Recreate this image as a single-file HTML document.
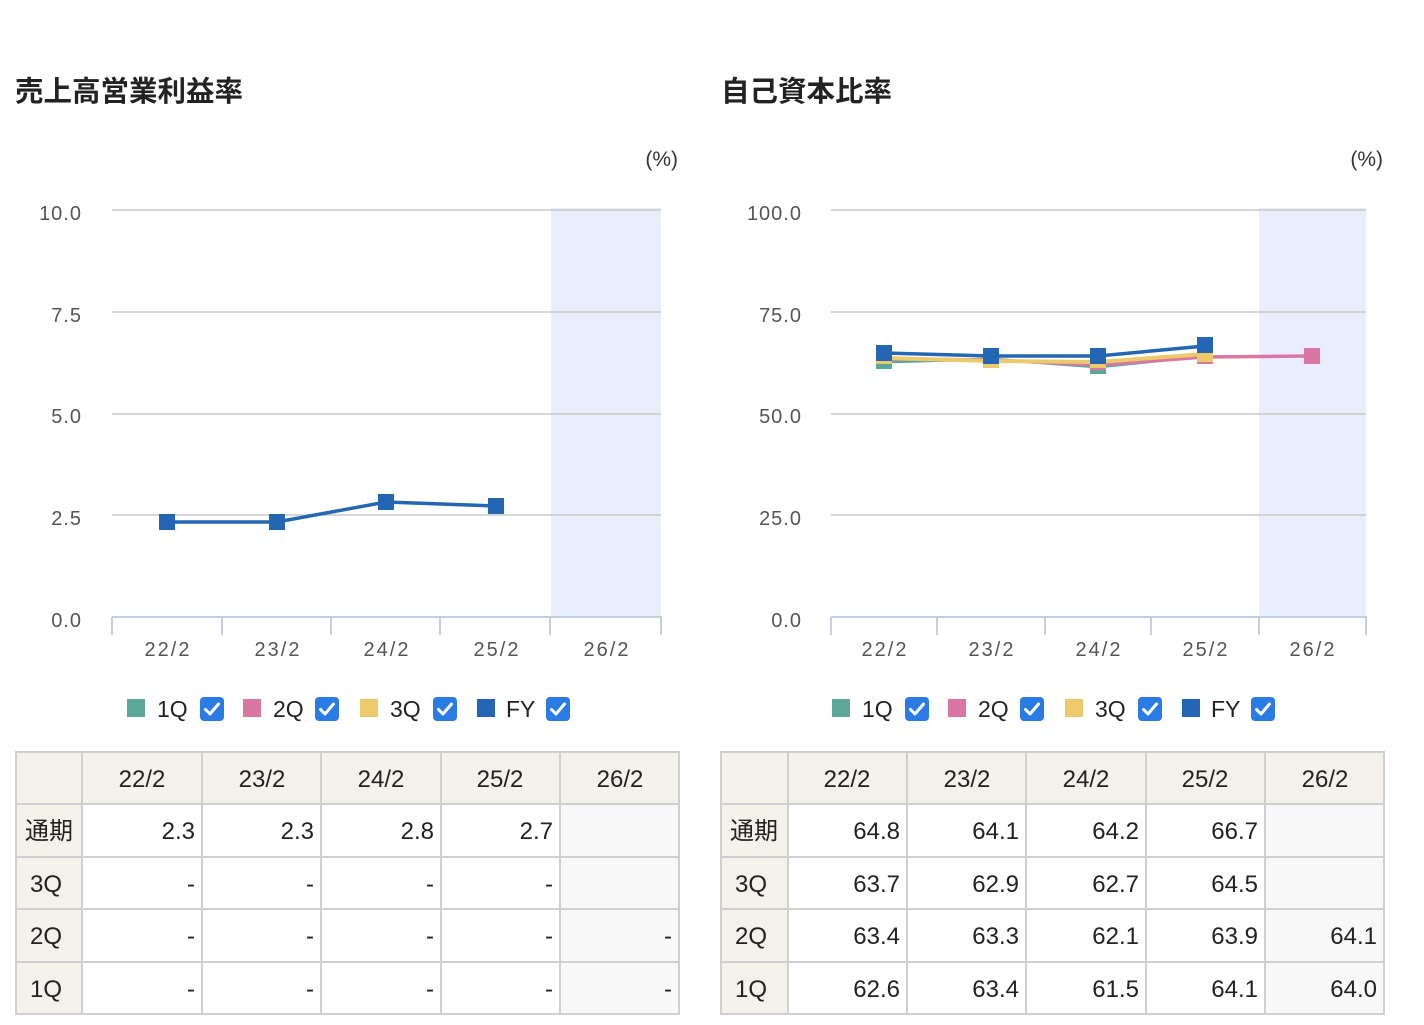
<!DOCTYPE html>
<html><head><meta charset="utf-8"><style>
body{margin:0;background:#fff;}
svg text{font-family:"Liberation Sans","Noto Sans CJK JP",sans-serif;}
</style></head><body>
<svg width="1424" height="1020" xmlns="http://www.w3.org/2000/svg">
<defs>
<g id="cb"><rect x="0" y="0" width="24" height="24" rx="4" fill="#2a7be4"/><path d="M5.5 12.5 L10 17 L18.5 7" stroke="#fff" stroke-width="3" fill="none" stroke-linecap="round" stroke-linejoin="round"/></g>
</defs>
<text x="15" y="101" font-size="28.5" font-weight="bold" fill="#222">売上高営業利益率</text>
<text x="721" y="101" font-size="28.5" font-weight="bold" fill="#222">自己資本比率</text>
<text x="678" y="166" font-size="21" fill="#333" text-anchor="end">(%)</text>
<text x="1383" y="166" font-size="21" fill="#333" text-anchor="end">(%)</text>

<!-- left chart -->
<rect x="551" y="208" width="110" height="410" fill="#eaeefc"/>
<g stroke="#c8c8c8" stroke-width="1.5">
<line x1="112" y1="210" x2="661" y2="210"/><line x1="112" y1="312" x2="661" y2="312"/><line x1="112" y1="414" x2="661" y2="414"/><line x1="112" y1="515" x2="661" y2="515"/>
</g>
<g stroke="#c3cfdf" stroke-width="2">
<line x1="112" y1="617" x2="662" y2="617"/>
<line x1="112" y1="617" x2="112" y2="635"/><line x1="222" y1="617" x2="222" y2="635"/><line x1="331" y1="617" x2="331" y2="635"/><line x1="440" y1="617" x2="440" y2="635"/><line x1="550" y1="617" x2="550" y2="635"/><line x1="661" y1="617" x2="661" y2="635"/>
</g>
<g font-size="20" fill="#555" text-anchor="end" letter-spacing="1">
<text x="82" y="220">10.0</text><text x="82" y="322">7.5</text><text x="82" y="423">5.0</text><text x="82" y="525">2.5</text><text x="82" y="627">0.0</text>
</g>
<g font-size="20" fill="#555" text-anchor="middle" letter-spacing="2">
<text x="168" y="656">22/2</text><text x="278" y="656">23/2</text><text x="387" y="656">24/2</text><text x="497" y="656">25/2</text><text x="607" y="656">26/2</text>
</g>
<polyline points="167,522 277,522 386,502 496,506" fill="none" stroke="#2366b3" stroke-width="3.5"/>
<g fill="#2366b3"><rect x="159" y="514" width="16" height="16"/><rect x="269" y="514" width="16" height="16"/><rect x="378" y="494" width="16" height="16"/><rect x="488" y="498" width="16" height="16"/></g>

<!-- right chart -->
<rect x="1259" y="208" width="107" height="410" fill="#eaeefc"/>
<g stroke="#c8c8c8" stroke-width="1.5">
<line x1="831" y1="210" x2="1366" y2="210"/><line x1="831" y1="312" x2="1366" y2="312"/><line x1="831" y1="414" x2="1366" y2="414"/><line x1="831" y1="515" x2="1366" y2="515"/>
</g>
<g stroke="#c3cfdf" stroke-width="2">
<line x1="831" y1="617" x2="1367" y2="617"/>
<line x1="831" y1="617" x2="831" y2="635"/><line x1="937" y1="617" x2="937" y2="635"/><line x1="1045" y1="617" x2="1045" y2="635"/><line x1="1151" y1="617" x2="1151" y2="635"/><line x1="1259" y1="617" x2="1259" y2="635"/><line x1="1366" y1="617" x2="1366" y2="635"/>
</g>
<g font-size="20" fill="#555" text-anchor="end" letter-spacing="1">
<text x="802" y="220">100.0</text><text x="802" y="322">75.0</text><text x="802" y="423">50.0</text><text x="802" y="525">25.0</text><text x="802" y="627">0.0</text>
</g>
<g font-size="20" fill="#555" text-anchor="middle" letter-spacing="2">
<text x="885" y="656">22/2</text><text x="992" y="656">23/2</text><text x="1099" y="656">24/2</text><text x="1206" y="656">25/2</text><text x="1313" y="656">26/2</text>
</g>
<polyline points="884,362 991,359 1098,367 1205,356" fill="none" stroke="#5ba898" stroke-width="3"/>
<polyline points="884,359 991,360 1098,365 1205,357 1312,356" fill="none" stroke="#d977a2" stroke-width="3.5"/>
<polyline points="884,358 991,361 1098,362 1205,354" fill="none" stroke="#ecc96b" stroke-width="4"/>
<polyline points="884,353 991,356 1098,356 1205,346" fill="none" stroke="#2366b3" stroke-width="3.5"/>
<g fill="#5ba898"><rect x="876" y="356" width="16" height="13"/><rect x="1090" y="361" width="16" height="13"/></g>
<g fill="#d977a2"><rect x="1197" y="350" width="16" height="14"/><rect x="1304" y="348" width="16" height="16"/><rect x="1090" y="358" width="16" height="12"/></g>
<g fill="#ecc96b"><rect x="876" y="351" width="16" height="13"/><rect x="983" y="352" width="16" height="16"/><rect x="1090" y="354" width="16" height="14"/><rect x="1197" y="346" width="16" height="16"/></g>
<g fill="#2366b3"><rect x="876" y="345" width="16" height="16"/><rect x="983" y="348" width="16" height="16"/><rect x="1090" y="348" width="16" height="16"/><rect x="1197" y="337" width="16" height="16"/></g>

<!-- legends -->
<g font-size="23" fill="#222">
<rect x="127" y="699" width="18" height="18" fill="#5ba898"/><text x="157" y="717">1Q</text><use href="#cb" x="200" y="697"/>
<rect x="243" y="699" width="18" height="18" fill="#d977a2"/><text x="273" y="717">2Q</text><use href="#cb" x="315" y="697"/>
<rect x="360" y="699" width="18" height="18" fill="#ecc96b"/><text x="390" y="717">3Q</text><use href="#cb" x="433" y="697"/>
<rect x="477" y="699" width="18" height="18" fill="#2366b3"/><text x="506" y="717">FY</text><use href="#cb" x="546" y="697"/>
<rect x="832" y="699" width="18" height="18" fill="#5ba898"/><text x="862" y="717">1Q</text><use href="#cb" x="905" y="697"/>
<rect x="948" y="699" width="18" height="18" fill="#d977a2"/><text x="978" y="717">2Q</text><use href="#cb" x="1020" y="697"/>
<rect x="1065" y="699" width="18" height="18" fill="#ecc96b"/><text x="1095" y="717">3Q</text><use href="#cb" x="1138" y="697"/>
<rect x="1182" y="699" width="18" height="18" fill="#2366b3"/><text x="1211" y="717">FY</text><use href="#cb" x="1251" y="697"/>
</g>

<!-- left table -->
<rect x="16" y="752" width="663" height="52" fill="#f4f1ea"/>
<rect x="16" y="804" width="66" height="210" fill="#f4f1ea"/>
<rect x="560" y="804" width="119" height="210" fill="#f8f8f8"/>
<g stroke="#cfcfcf" stroke-width="2" fill="none">
<rect x="16" y="752" width="663" height="262"/>
<line x1="16" y1="804" x2="679" y2="804"/><line x1="16" y1="857" x2="679" y2="857"/><line x1="16" y1="909" x2="679" y2="909"/><line x1="16" y1="962" x2="679" y2="962"/>
<line x1="82" y1="752" x2="82" y2="1014"/><line x1="202" y1="752" x2="202" y2="1014"/><line x1="321" y1="752" x2="321" y2="1014"/><line x1="441" y1="752" x2="441" y2="1014"/><line x1="560" y1="752" x2="560" y2="1014"/>
</g>
<g font-size="24" fill="#222">
<g text-anchor="middle"><text x="142" y="787">22/2</text><text x="262" y="787">23/2</text><text x="381" y="787">24/2</text><text x="500" y="787">25/2</text><text x="620" y="787">26/2</text></g>
<text x="25" y="839">通期</text><text x="30" y="892">3Q</text><text x="30" y="944">2Q</text><text x="30" y="997">1Q</text>
<g text-anchor="end">
<text x="195" y="839">2.3</text><text x="314" y="839">2.3</text><text x="434" y="839">2.8</text><text x="553" y="839">2.7</text>
<text x="195" y="892">-</text><text x="314" y="892">-</text><text x="434" y="892">-</text><text x="553" y="892">-</text>
<text x="195" y="944">-</text><text x="314" y="944">-</text><text x="434" y="944">-</text><text x="553" y="944">-</text><text x="672" y="944">-</text>
<text x="195" y="997">-</text><text x="314" y="997">-</text><text x="434" y="997">-</text><text x="553" y="997">-</text><text x="672" y="997">-</text>
</g></g>

<!-- right table -->
<rect x="721" y="752" width="663" height="52" fill="#f4f1ea"/>
<rect x="721" y="804" width="67" height="210" fill="#f4f1ea"/>
<rect x="1265" y="804" width="119" height="210" fill="#f8f8f8"/>
<g stroke="#cfcfcf" stroke-width="2" fill="none">
<rect x="721" y="752" width="663" height="262"/>
<line x1="721" y1="804" x2="1384" y2="804"/><line x1="721" y1="857" x2="1384" y2="857"/><line x1="721" y1="909" x2="1384" y2="909"/><line x1="721" y1="962" x2="1384" y2="962"/>
<line x1="788" y1="752" x2="788" y2="1014"/><line x1="907" y1="752" x2="907" y2="1014"/><line x1="1026" y1="752" x2="1026" y2="1014"/><line x1="1146" y1="752" x2="1146" y2="1014"/><line x1="1265" y1="752" x2="1265" y2="1014"/>
</g>
<g font-size="24" fill="#222">
<g text-anchor="middle"><text x="847" y="787">22/2</text><text x="967" y="787">23/2</text><text x="1086" y="787">24/2</text><text x="1205" y="787">25/2</text><text x="1325" y="787">26/2</text></g>
<text x="730" y="839">通期</text><text x="735" y="892">3Q</text><text x="735" y="944">2Q</text><text x="735" y="997">1Q</text>
<g text-anchor="end">
<text x="900" y="839">64.8</text><text x="1019" y="839">64.1</text><text x="1139" y="839">64.2</text><text x="1258" y="839">66.7</text>
<text x="900" y="892">63.7</text><text x="1019" y="892">62.9</text><text x="1139" y="892">62.7</text><text x="1258" y="892">64.5</text>
<text x="900" y="944">63.4</text><text x="1019" y="944">63.3</text><text x="1139" y="944">62.1</text><text x="1258" y="944">63.9</text><text x="1377" y="944">64.1</text>
<text x="900" y="997">62.6</text><text x="1019" y="997">63.4</text><text x="1139" y="997">61.5</text><text x="1258" y="997">64.1</text><text x="1377" y="997">64.0</text>
</g></g>
</svg>
</body></html>
